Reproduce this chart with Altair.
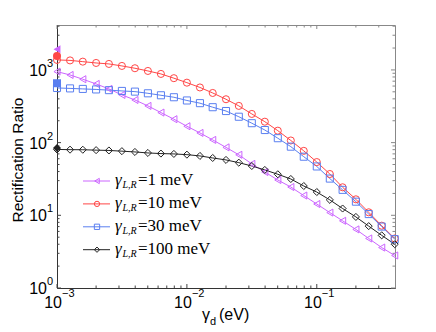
import altair as alt
import pandas as pd

# ---------------- data ----------------
gamma_d = [0.001, 0.00126, 0.00158, 0.002, 0.00251, 0.00316, 0.00398, 0.00501, 0.00631, 0.00794,
           0.01, 0.0126, 0.0158, 0.02, 0.0251, 0.0316, 0.0398, 0.0501, 0.0631, 0.0794,
           0.1, 0.126, 0.158, 0.2, 0.251, 0.316, 0.398]

ratio_1 = [948, 853, 745, 642, 548, 453, 386, 320, 259, 210, 168, 136, 109, 86, 68, 51,
           39.4, 30.6, 24.5, 18.7, 14.3, 10.9, 8.4, 6.4, 4.8, 3.6, 2.8]
ratio_10 = [1373, 1352, 1300, 1247, 1209, 1135, 1055, 968, 881, 770, 668, 574, 482, 395, 320, 248,
            194, 146, 107, 77, 54, 37, 24.3, 16.6, 11, 7.2, 4.8]
ratio_30 = [565, 557, 548, 539, 527, 514, 503, 477, 448, 421, 380, 349, 307, 272, 227, 185,
            149, 115, 88, 64, 47, 32, 22.4, 15.4, 10.4, 7.0, 4.7]
ratio_100 = [80.6, 80, 79.8, 78.8, 78, 76.3, 74.4, 72.1, 70.7, 69.9, 68.3, 65.6, 61.5, 57.8, 53, 47.7,
             42.1, 36.7, 31.6, 25.3, 20.9, 16.3, 12.4, 9.5, 7.1, 5.3, 4.0]

gamma_lr = [1, 10, 30, 100]            # meV
limit_x = 0.001
limit_vals = [1927, 1558, 656, 84]      # filled markers at gamma_d = 1e-3

x_major = [0.001, 0.01, 0.1]
x_major_exp = ["\u22123", "\u22122", "\u22121"]
x_minor = [0.002, 0.003, 0.004, 0.005, 0.006, 0.007, 0.008, 0.009,
           0.02, 0.03, 0.04, 0.05, 0.06, 0.07, 0.08, 0.09,
           0.2, 0.3]
y_major = [1, 10, 100, 1000]
y_major_exp = ["0", "1", "2", "3"]
y_minor = [2, 3, 4, 5, 6, 7, 8, 9, 20, 30, 40, 50, 60, 70, 80, 90,
           200, 300, 400, 500, 600, 700, 800, 900, 2000, 3000, 4000]

# ---------------- style ----------------
names = [str(g) for g in gamma_lr]
colors = ["#cc66ff", "#ff4646", "#5a7ff0", "#222222"]
shapes = ["triangle-left", "circle", "square", "diamond"]
W, H = 338, 263
SANS = "Liberation Sans"
SERIF = "Liberation Serif"

rows = []
for n, vals in zip(names, [ratio_1, ratio_10, ratio_30, ratio_100]):
    for xv, yv in zip(gamma_d, vals):
        rows.append({"gd": xv, "r": yv, "series": n})
df = pd.DataFrame(rows)
df_lim = pd.DataFrame({"gd": [limit_x] * 4, "r": limit_vals, "series": names})

xs = alt.Scale(type="log", domain=[0.001, 0.4], nice=False)
ys = alt.Scale(type="log", domain=[1, 4150], nice=False)
xax = alt.Axis(labels=False, ticks=False, grid=False, title=None, domainColor="#333333", domainWidth=1)
yax = alt.Axis(labels=False, ticks=False, grid=False, title=None, domainColor="#333333", domainWidth=1)


def X(f):
    return alt.X(f"{f}:Q", scale=xs, axis=xax)


def Y(f):
    return alt.Y(f"{f}:Q", scale=ys, axis=yax)


col = alt.Color("series:N", scale=alt.Scale(domain=names, range=colors), legend=None)
shp = alt.Shape("series:N", scale=alt.Scale(domain=names, range=shapes), legend=None)

layers = []

# tick marks (inside, all four sides)
for vals, L in [(x_major, 4), (x_minor, 2.5)]:
    d = pd.DataFrame({"v": vals})
    layers.append(alt.Chart(d).mark_rule(color="#444", strokeWidth=1).encode(
        x=X("v"), y=alt.value(H), y2=alt.value(H - L)))
    layers.append(alt.Chart(d).mark_rule(color="#888", strokeWidth=1).encode(
        x=X("v"), y=alt.value(0), y2=alt.value(L)))
for vals, L in [(y_major, 4), (y_minor, 2.5)]:
    d = pd.DataFrame({"v": vals})
    layers.append(alt.Chart(d).mark_rule(color="#444", strokeWidth=1).encode(
        y=Y("v"), x=alt.value(0), x2=alt.value(L)))
    layers.append(alt.Chart(d).mark_rule(color="#888", strokeWidth=1).encode(
        y=Y("v"), x=alt.value(W), x2=alt.value(W - L)))

# curves
layers.append(alt.Chart(df).mark_line(strokeWidth=1).encode(
    x=X("gd"), y=Y("r"), color=col, detail="series:N"))
layers.append(alt.Chart(df).mark_point(filled=False, size=50, strokeWidth=1, opacity=1).encode(
    x=X("gd"), y=Y("r"), color=col, shape=shp))
layers.append(alt.Chart(df_lim).mark_point(filled=True, size=64, opacity=1).encode(
    x=X("gd"), y=Y("r"), color=col, shape=shp))

# tick labels
dxm = pd.DataFrame({"v": x_major, "e": x_major_exp})
layers.append(alt.Chart(dxm).mark_text(align="right", baseline="alphabetic", font=SANS, fontSize=16,
                                       dx=5, color="#000").encode(
    x=X("v"), y=alt.value(H + 20), text=alt.value("10")))
layers.append(alt.Chart(dxm).mark_text(align="left", baseline="alphabetic", font=SANS, fontSize=11,
                                       dx=5, color="#000").encode(
    x=X("v"), y=alt.value(H + 9), text=alt.Text("e:N")))
dym = pd.DataFrame({"v": y_major, "e": y_major_exp})
layers.append(alt.Chart(dym).mark_text(align="right", baseline="middle", font=SANS, fontSize=16,
                                       dy=1, color="#000").encode(
    y=Y("v"), x=alt.value(-10), text=alt.value("10")))
layers.append(alt.Chart(dym).mark_text(align="left", baseline="middle", font=SANS, fontSize=11,
                                       dy=-6, color="#000").encode(
    y=Y("v"), x=alt.value(-10), text=alt.Text("e:N")))

one = pd.DataFrame({"a": [0]})
# axis titles
layers.append(alt.Chart(one).mark_text(angle=270, font=SANS, fontSize=15.5, align="center",
                                       baseline="middle", color="#000").encode(
    x=alt.value(-39), y=alt.value(135), text=alt.value("Rectification Ratio")))
layers.append(alt.Chart(one).mark_text(font=SANS, fontSize=16, align="left", baseline="alphabetic",
                                       color="#000").encode(
    x=alt.value(145), y=alt.value(H + 32), text=alt.value("\u03b3")))
layers.append(alt.Chart(one).mark_text(font=SANS, fontSize=11, align="left", baseline="alphabetic",
                                       color="#000").encode(
    x=alt.value(153), y=alt.value(H + 37), text=alt.value("d")))
layers.append(alt.Chart(one).mark_text(font=SANS, fontSize=16, align="left", baseline="alphabetic",
                                       color="#000").encode(
    x=alt.value(162), y=alt.value(H + 32), text=alt.value("(eV)")))

# legend (manual, inside plot)
for i, (n, c, s) in enumerate(zip(names, colors, shapes)):
    ry = 156 + 22.9 * i
    layers.append(alt.Chart(one).mark_rule(color=c, strokeWidth=1).encode(
        x=alt.value(26), x2=alt.value(53), y=alt.value(ry)))
    layers.append(alt.Chart(one).mark_point(shape=s, filled=False, color=c, size=28, strokeWidth=1,
                                            opacity=1).encode(
        x=alt.value(40), y=alt.value(ry)))
    layers.append(alt.Chart(one).mark_text(font=SERIF, fontStyle="italic", fontSize=17, align="left",
                                           baseline="alphabetic", color="#000").encode(
        x=alt.value(58), y=alt.value(ry + 4), text=alt.value("\u03b3")))
    layers.append(alt.Chart(one).mark_text(font=SERIF, fontStyle="italic", fontSize=10, align="left",
                                           baseline="alphabetic", color="#000").encode(
        x=alt.value(65.5), y=alt.value(ry + 7), text=alt.value("L,R")))
    layers.append(alt.Chart(one).mark_text(font=SERIF, fontSize=17, align="left",
                                           baseline="alphabetic", color="#000").encode(
        x=alt.value(81), y=alt.value(ry + 4), text=alt.value(f"={n} meV")))

chart = alt.layer(*layers).properties(
    width=W, height=H,
    padding={"left": 49, "top": 17, "right": 25, "bottom": 40},
    autosize=alt.AutoSizeParams(type="none"),
).configure_view(stroke="#888888", strokeWidth=1)

chart.save("out.html", embed_options={"renderer": "svg", "actions": False})
